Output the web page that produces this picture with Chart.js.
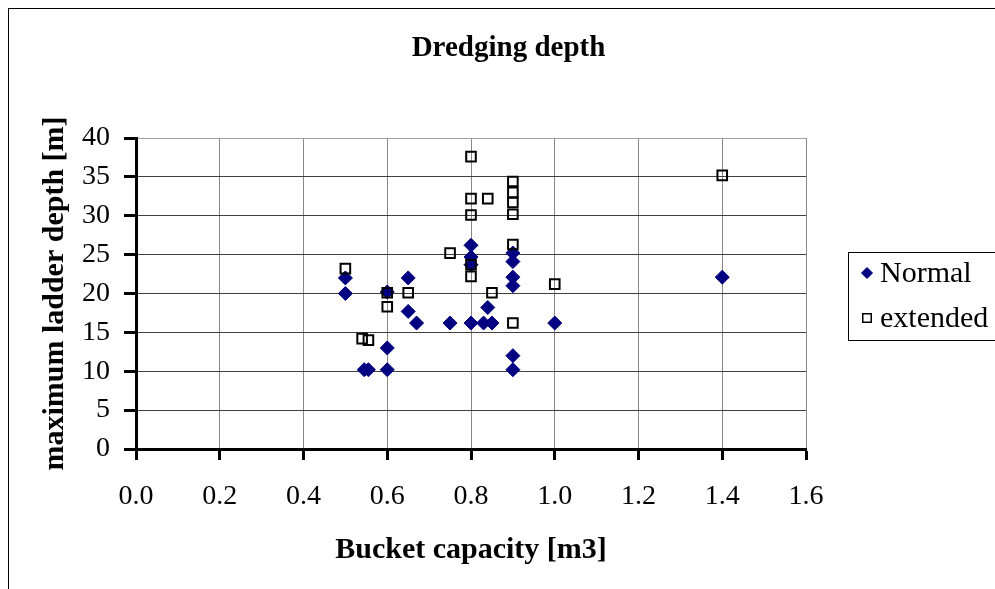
<!DOCTYPE html>
<html>
<head>
<meta charset="utf-8">
<script src="https://cdn.jsdelivr.net/npm/chart.js@4/dist/chart.umd.min.js"></script>
<style>
  html, body { margin: 0; padding: 0; background: #ffffff; }
  #wrap { width: 995px; height: 589px; }
</style>
</head>
<body>
<div id="wrap"><canvas id="c" width="995" height="589"></canvas></div>
<script>
// ---- data ----
const chartTitle = 'Dredging depth';
const xTitle = 'Bucket capacity [m3]';
const yTitle = 'maximum ladder depth [m]';
const seriesNames = ['Normal', 'extended'];

const normalX = [0.5, 0.5, 0.545, 0.555, 0.6, 0.6, 0.6, 0.65, 0.65, 0.67, 0.75, 0.8, 0.8, 0.8, 0.8, 0.83, 0.84, 0.85, 0.9, 0.9, 0.9, 0.9, 0.9, 0.9, 1.0, 1.4];
const normalY = [22, 20, 10.2, 10.2, 20.2, 13, 10.2, 22, 17.7, 16.2, 16.2, 26.2, 24.7, 23.7, 16.2, 16.2, 18.2, 16.2, 25.2, 24.1, 22.1, 21, 12, 10.2, 16.2, 22.1];

const extendedX = [0.5, 0.54, 0.555, 0.6, 0.6, 0.65, 0.75, 0.8, 0.8, 0.8, 0.8, 0.8, 0.84, 0.85, 0.9, 0.9, 0.9, 0.9, 0.9, 0.9, 1.0, 1.4];
const extendedY = [23.2, 14.2, 14, 20.1, 18.3, 20.1, 25.2, 37.6, 32.2, 30.1, 23.7, 22.2, 32.2, 20.1, 34.4, 33, 31.7, 30.2, 26.3, 16.2, 21.2, 35.2];

const xTickLabels = ['0.0', '0.2', '0.4', '0.6', '0.8', '1.0', '1.2', '1.4', '1.6'];
const yTickLabels = ['0', '5', '10', '15', '20', '25', '30', '35', '40'];

const toPoints = (xs, ys) => xs.map((x, i) => ({ x: x, y: ys[i] }));

const SERIF = "'Liberation Serif', 'Times New Roman', serif";

// outer border + legend
const framePlugin = {
  id: 'frame',
  beforeDraw(chart) {
    const ctx = chart.ctx;
    ctx.save();
    ctx.fillStyle = '#ffffff';
    ctx.fillRect(0, 0, chart.width, chart.height);
    ctx.restore();
  },
  afterDraw(chart) {
    const ctx = chart.ctx;
    ctx.save();
    ctx.strokeStyle = '#000000';
    ctx.lineWidth = 1;
    ctx.strokeRect(8.5, 8.5, 1100, 700);
    // legend
    ctx.strokeRect(848.5, 252.5, 200, 88);
    ctx.font = '30px ' + SERIF;
    ctx.fillStyle = '#000000';
    ctx.textBaseline = 'middle';
    ctx.textAlign = 'left';
    const rows = [273, 318];
    const legendStyles = [
      { pointStyle: 'rectRot', radius: 5.5, borderWidth: 1, rotation: 0 },
      { pointStyle: 'rect', radius: 6, borderWidth: 1.5, rotation: 0 }
    ];
    chart.data.datasets.forEach((ds) => {
      const idx = seriesNames.indexOf(ds.label);
      const y = rows[idx];
      ctx.save();
      ctx.fillStyle = ds.backgroundColor;
      ctx.strokeStyle = ds.borderColor;
      ctx.lineWidth = legendStyles[idx].borderWidth;
      Chart.helpers.drawPoint(ctx, legendStyles[idx], 867, y);
      ctx.restore();
      ctx.fillText(ds.label, 880, y + 1);
    });
    ctx.restore();
  }
};

new Chart(document.getElementById('c'), {
  type: 'scatter',
  data: {
    datasets: [
      {
        label: seriesNames[0],
        data: toPoints(normalX, normalY),
        pointStyle: 'rectRot',
        pointRadius: 7,
        pointHoverRadius: 7,
        backgroundColor: '#000080',
        borderColor: '#000080',
        borderWidth: 1,
        order: 2
      },
      {
        label: seriesNames[1],
        data: toPoints(extendedX, extendedY),
        pointStyle: 'rect',
        pointRadius: 6.8,
        pointHoverRadius: 6.8,
        backgroundColor: 'rgba(255,255,255,0)',
        borderColor: '#000000',
        borderWidth: 2,
        order: 1
      }
    ]
  },
  options: {
    responsive: false,
    animation: false,
    events: [],
    layout: { padding: { left: 22, right: 0, top: 0, bottom: 0 } },
    plugins: {
      legend: { display: false },
      tooltip: { enabled: false },
      title: {
        display: true,
        text: chartTitle,
        color: '#000000',
        font: { family: SERIF, size: 29, weight: 'bold' },
        padding: { top: 31, bottom: 72.2 }
      }
    },
    scales: {
      x: {
        type: 'linear',
        min: 0,
        max: 1.6,
        afterFit(s) { s.height = 140; },
        ticks: {
          stepSize: 0.2,
          color: '#000000',
          padding: 20,
          maxRotation: 0,
          autoSkip: false,
          font: { family: SERIF, size: 28 },
          callback: (v) => xTickLabels[Math.round(v / 0.2)]
        },
        grid: {
          color: '#888888',
          lineWidth: 1,
          drawTicks: true,
          tickLength: 11,
          tickColor: '#000000',
          tickWidth: 3
        },
        border: { display: true, color: '#000000', width: 3 },
        title: {
          display: true,
          text: xTitle,
          color: '#000000',
          font: { family: SERIF, size: 30, weight: 'bold' },
          padding: { top: 0, bottom: 21 }
        }
      },
      y: {
        type: 'linear',
        min: 0,
        max: 40,
        afterFit(s) { s.width = 114; },
        ticks: {
          stepSize: 5,
          color: '#000000',
          padding: 14,
          font: { family: SERIF, size: 28 },
          callback: (v) => yTickLabels[Math.round(v / 5)]
        },
        grid: {
          color: (c) => (c.tick && c.tick.value === 40 ? '#a0a0a0' : '#404040'),
          lineWidth: 1,
          drawTicks: true,
          tickLength: 12,
          tickColor: '#000000',
          tickWidth: 3
        },
        border: { display: true, color: '#000000', width: 3 },
        title: {
          display: true,
          text: yTitle,
          color: '#000000',
          font: { family: SERIF, size: 30, weight: 'bold' },
          padding: { top: 15, bottom: 0 }
        }
      },
      y2: {
        type: 'linear',
        position: 'right',
        display: true,
        afterFit(s) { s.width = 189; },
        ticks: { display: false },
        grid: { display: false, drawTicks: false },
        border: { display: false }
      }
    }
  },
  plugins: [framePlugin]
});
</script>
</body>
</html>
